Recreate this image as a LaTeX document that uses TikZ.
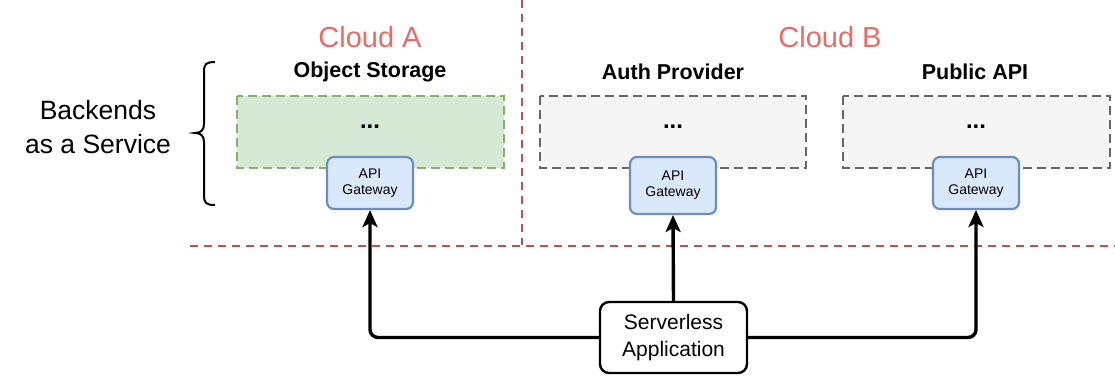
\documentclass[tikz,border=0pt]{standalone}
\usepackage{fontspec}
\setmainfont{Liberation Sans}
\usetikzlibrary{arrows.meta}
\definecolor{cloudred}{HTML}{EA6B66}
\definecolor{borderred}{HTML}{B85450}
\definecolor{greenfill}{HTML}{D5E8D4}
\definecolor{greenline}{HTML}{82B366}
\definecolor{greyfill}{HTML}{F5F5F5}
\definecolor{greyline}{HTML}{666666}
\definecolor{bluefill}{HTML}{DAE8FC}
\definecolor{blueline}{HTML}{6C8EBF}
\newcommand{\fsz}[1]{\fontsize{#1}{1.2\dimexpr#1pt\relax}\selectfont}
\tikzset{
  x=1pt, y=-1pt,
  boundary/.style={draw=borderred, line width=2pt, dash pattern=on 8pt off 6pt},
  service/.style={line width=2.2pt, dash pattern=on 9pt off 5pt},
  gateway/.style={draw=blueline, fill=bluefill, line width=2.2pt, rounded corners=7pt},
  cloudlabel/.style={text=cloudred, font=\fsz{29}},
  svclabel/.style={font=\bfseries\fsz{21.5}},
  dots/.style={font=\bfseries\fsz{24}},
  gwtext/.style={align=center, font=\fsz{14}, inner sep=0pt},
  flow/.style={line width=3.4pt, rounded corners=8pt, -{Stealth[length=17pt, width=15pt, inset=4pt]}},
}
\begin{document}
\begin{tikzpicture}
\useasboundingbox (0,0) rectangle (1115,376);

% cloud boundaries
\coordinate (vtop) at (522,0);
\coordinate (vbot) at (522,245);
\coordinate (hl) at (190,246);
\coordinate (hr) at (1115,246);
\draw[boundary] (vtop) -- (vbot);
\draw[boundary] (hl) -- (hr);

\node[cloudlabel] (cloudA) at (370,37) {Cloud A};
\node[cloudlabel] (cloudB) at (830,37) {Cloud B};

% backend services
\draw[service, draw=greenline, fill=greenfill] (237,96) rectangle (504,168);
\draw[service, draw=greyline, fill=greyfill] (540,96) rectangle (806,168);
\draw[service, draw=greyline, fill=greyfill] (843,96) rectangle (1110,168);

\node[svclabel] (storage) at (370,72) {Object Storage};
\node[svclabel] (auth) at (673,72) {Auth Provider};
\node[svclabel] (public) at (975,72) {Public API};

\node[dots] (dotsA) at (370,127) {...};
\node[dots] (dotsB) at (673,127) {...};
\node[dots] (dotsC) at (976,127) {...};

% gateways
\path[gateway] (327,157) rectangle (413,209);
\path[gateway] (630,157) rectangle (716,214);
\path[gateway] (933,157) rectangle (1019,209);
\node[gwtext] (gwtA) at (370,183) {API\\[-1pt]Gateway};
\node[gwtext] (gwtB) at (673,185) {API\\[-1pt]Gateway};
\node[gwtext] (gwtC) at (976,183) {API\\[-1pt]Gateway};
\coordinate (gwA) at (370,210);
\coordinate (gwB) at (673,215);
\coordinate (gwC) at (976,210);

% brace and label
\draw[line width=2pt] (215,62) .. controls (206,62) and (204,64) .. (204,72)
  -- (204,124) .. controls (204,130) and (201,133) .. (195,133)
  .. controls (201,133) and (204,136) .. (204,142)
  -- (204,195) .. controls (204,203) and (206,205) .. (215,205);
\node[align=center, font=\fsz{26.5}, inner sep=0pt] (baas) at (98,127) {Backends\\[3pt]as a Service};

% serverless application
\node[draw, line width=2.4pt, rounded corners=9pt, fill=white, minimum width=147pt, minimum height=71pt,
  align=center, font=\fsz{21}, inner sep=0pt] (app) at (673.5,337.5) {Serverless\\[1pt]Application};

\draw[flow] (app.west) -| (gwA);
\draw[flow] (app.north) -- (gwB);
\draw[flow] (app.east) -| (gwC);
\end{tikzpicture}
\end{document}
